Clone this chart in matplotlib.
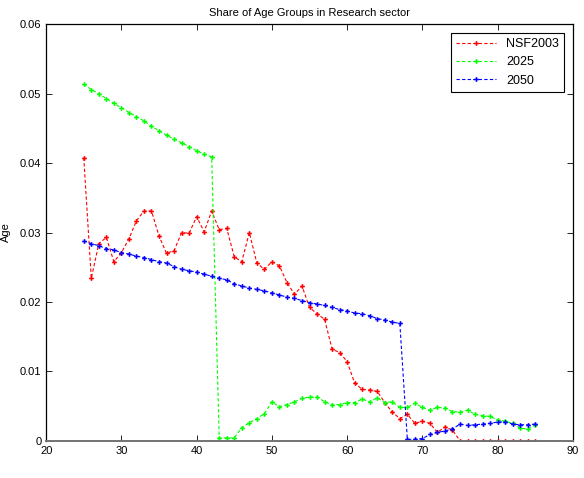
"""Share of age groups in the research sector: NSF2003 vs. 2025 and 2050 projections."""

import matplotlib
matplotlib.use("Agg")
import matplotlib.pyplot as plt
import numpy as np

plt.rcParams["font.family"] = ["Liberation Sans", "DejaVu Sans"]

ages = np.arange(25, 86)

nsf2003 = [
    0.0408, 0.0234, 0.0284, 0.0293, 0.0258, 0.0271, 0.0291, 0.0317, 0.0331, 0.0331,  # 25-34
    0.0295, 0.0270, 0.0274, 0.0300, 0.0299, 0.0323, 0.0301, 0.0331, 0.0304, 0.0306,  # 35-44
    0.0265, 0.0258, 0.0300, 0.0256, 0.0247, 0.0258, 0.0252, 0.0228, 0.0211, 0.0223,  # 45-54
    0.0192, 0.0183, 0.0175, 0.0132, 0.0127, 0.0114, 0.0083, 0.0074, 0.0073, 0.0071,  # 55-64
    0.0055, 0.0041, 0.0032, 0.0038, 0.0025, 0.0028, 0.0025, 0.0012, 0.0020, 0.0015,  # 65-74
    0.0, 0.0, 0.0, 0.0, 0.0, 0.0, 0.0, 0.0, 0.0, 0.0, 0.0,                           # 75-85
]

proj2025 = [
    0.0514, 0.0506, 0.0500, 0.0493, 0.0486, 0.0480, 0.0473, 0.0467, 0.0461, 0.0453,  # 25-34
    0.0447, 0.0440, 0.0435, 0.0429, 0.0424, 0.0418, 0.0413, 0.0409, 0.0004, 0.0004,  # 35-44
    0.0004, 0.0019, 0.0026, 0.0032, 0.0039, 0.0056, 0.0049, 0.0052, 0.0056, 0.0061,  # 45-54
    0.0063, 0.0063, 0.0056, 0.0052, 0.0052, 0.0055, 0.0055, 0.0060, 0.0056, 0.0062,  # 55-64
    0.0055, 0.0056, 0.0048, 0.0048, 0.0054, 0.0048, 0.0044, 0.0048, 0.0047, 0.0042,  # 65-74
    0.0041, 0.0044, 0.0038, 0.0036, 0.0035, 0.0030, 0.0028, 0.0025, 0.0018, 0.0017,  # 75-84
    0.0023,                                                                          # 85
]

proj2050 = [
    0.0288, 0.0284, 0.0281, 0.0277, 0.0275, 0.0271, 0.0269, 0.0266, 0.0264, 0.0261,  # 25-34
    0.0258, 0.0256, 0.0251, 0.0247, 0.0245, 0.0243, 0.0240, 0.0237, 0.0234, 0.0232,  # 35-44
    0.0226, 0.0223, 0.0220, 0.0218, 0.0216, 0.0213, 0.0210, 0.0207, 0.0205, 0.0202,  # 45-54
    0.0199, 0.0197, 0.0195, 0.0192, 0.0189, 0.0187, 0.0184, 0.0183, 0.0180, 0.0176,  # 55-64
    0.0174, 0.0171, 0.0169, 0.0002, 0.0002, 0.0003, 0.0009, 0.0012, 0.0014, 0.0017,  # 65-74
    0.0024, 0.0022, 0.0023, 0.0024, 0.0025, 0.0027, 0.0027, 0.0024, 0.0023, 0.0023,  # 75-84
    0.0024,                                                                          # 85
]

SERIES = [
    ("NSF2003", nsf2003, "#ff0000"),
    ("2025", proj2025, "#00ff00"),
    ("2050", proj2050, "#0000ff"),
]

fig = plt.figure(figsize=(5.84, 4.78), dpi=100)
ax = fig.add_axes([0.079, 0.078, 0.902, 0.871])

for label, values, color in SERIES:
    ax.plot(ages, values, linestyle=(0, (3, 2)), linewidth=0.8, color=color,
            marker="P", markersize=3.4, markeredgewidth=0, label=label)

ax.set_xlim(20, 90)
ax.set_ylim(0, 0.06)
ax.set_xticks(range(20, 91, 10))
ax.set_yticks([0, 0.01, 0.02, 0.03, 0.04, 0.05, 0.06])
ax.set_yticklabels(["0", "0.01", "0.02", "0.03", "0.04", "0.05", "0.06"])
ax.tick_params(direction="in", top=True, right=True, labelsize=8, length=4, width=0.6)
for side in ax.spines.values():
    side.set_linewidth(0.9)
ax.spines["bottom"].set_color("0.45")
ax.spines["bottom"].set_linewidth(1.4)

ax.set_title("Share of Age Groups in Research sector", fontsize=8, pad=6)
ax.set_ylabel("Age", fontsize=8, labelpad=6)

leg = ax.legend(loc="upper right", fontsize=9, numpoints=1, handlelength=3.2,
                fancybox=False, framealpha=1, borderaxespad=0.7)
leg.get_frame().set_edgecolor("black")
leg.get_frame().set_linewidth(0.8)

fig.savefig("out.png", dpi=100)
